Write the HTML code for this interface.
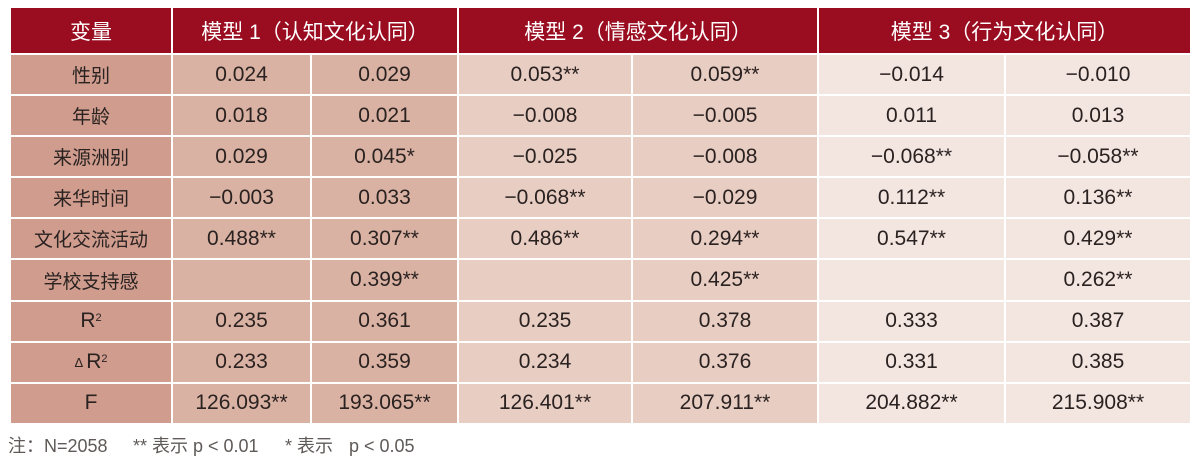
<!DOCTYPE html>
<html>
<head>
<meta charset="utf-8">
<style>
html,body{margin:0;padding:0;background:#fff;}
body{width:1200px;height:466px;position:relative;overflow:hidden;font-family:"Liberation Sans","Noto Sans CJK SC",sans-serif;}
.grid{position:absolute;left:11px;top:8px;width:1179px;display:grid;
grid-template-columns:160px 137px 145px 172px 184px 185px 184px;
grid-template-rows:45px repeat(9,39.1px);gap:2px;background:#fff;}
.grid div{display:flex;align-items:center;justify-content:center;color:#2a2220;font-size:21px;white-space:nowrap;}
.h{background:#9a0d20;color:#fff !important;font-family:"Liberation Sans","Noto Sans CJK SC",sans-serif;font-size:21px !important;}
.l{background:#cf9c8e;font-family:"Noto Sans CJK SC",sans-serif;font-size:19px !important;}
.a{background:#dab2a3;}
.b{background:#e8cdc3;}
.c{background:#f3e5e0;}
.s2{grid-column:span 2;}
sup{font-size:11px;vertical-align:top;position:relative;top:-3px;}
.d{font-size:13px;margin-right:3px;}
.note{position:absolute;top:434px;left:8px;font-size:18px;color:#5f5a58;white-space:nowrap;font-family:"Liberation Sans","Noto Sans CJK SC",sans-serif;height:24px;}
.note span{position:absolute;top:0;height:24px;line-height:24px;display:block;}
</style>
</head>
<body>
<div class="grid">
<div class="h">变量</div>
<div class="h s2">模型 1（认知文化认同）</div>
<div class="h s2">模型 2（情感文化认同）</div>
<div class="h s2">模型 3（行为文化认同）</div>

<div class="l">性别</div><div class="a">0.024</div><div class="a">0.029</div><div class="b">0.053**</div><div class="b">0.059**</div><div class="c">−0.014</div><div class="c">−0.010</div>
<div class="l">年龄</div><div class="a">0.018</div><div class="a">0.021</div><div class="b">−0.008</div><div class="b">−0.005</div><div class="c">0.011</div><div class="c">0.013</div>
<div class="l">来源洲别</div><div class="a">0.029</div><div class="a">0.045*</div><div class="b">−0.025</div><div class="b">−0.008</div><div class="c">−0.068**</div><div class="c">−0.058**</div>
<div class="l">来华时间</div><div class="a">−0.003</div><div class="a">0.033</div><div class="b">−0.068**</div><div class="b">−0.029</div><div class="c">0.112**</div><div class="c">0.136**</div>
<div class="l">文化交流活动</div><div class="a">0.488**</div><div class="a">0.307**</div><div class="b">0.486**</div><div class="b">0.294**</div><div class="c">0.547**</div><div class="c">0.429**</div>
<div class="l">学校支持感</div><div class="a"></div><div class="a">0.399**</div><div class="b"></div><div class="b">0.425**</div><div class="c"></div><div class="c">0.262**</div>
<div class="l" style="font-family:'Liberation Sans',sans-serif;font-size:21px !important;">R<sup>2</sup></div><div class="a">0.235</div><div class="a">0.361</div><div class="b">0.235</div><div class="b">0.378</div><div class="c">0.333</div><div class="c">0.387</div>
<div class="l" style="font-family:'Liberation Sans',sans-serif;font-size:21px !important;"><span class="d">Δ</span>R<sup>2</sup></div><div class="a">0.233</div><div class="a">0.359</div><div class="b">0.234</div><div class="b">0.376</div><div class="c">0.331</div><div class="c">0.385</div>
<div class="l" style="font-family:'Liberation Sans',sans-serif;font-size:21px !important;">F</div><div class="a">126.093**</div><div class="a">193.065**</div><div class="b">126.401**</div><div class="b">207.911**</div><div class="c">204.882**</div><div class="c">215.908**</div>
</div>
<div class="note">
<span style="left:0">注：</span>
<span style="left:36px">N=2058</span>
<span style="left:125px">** 表示 p &lt; 0.01</span>
<span style="left:277px">* 表示</span>
<span style="left:341px">p &lt; 0.05</span>
</div>
</body>
</html>
